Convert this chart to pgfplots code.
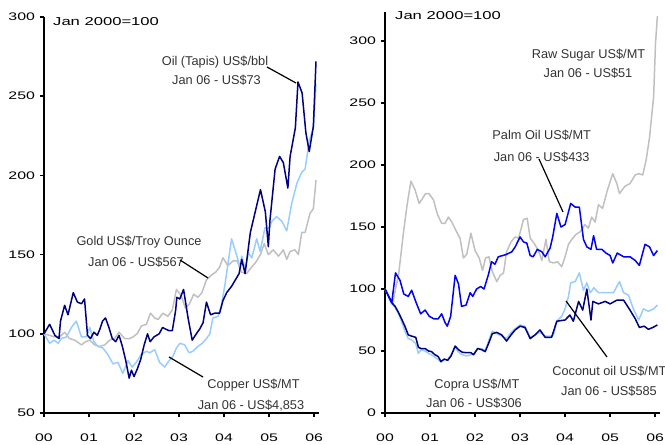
\documentclass[border=0pt]{standalone}
\usepackage{fontspec}
\setmainfont{Liberation Sans}
\newfontfamily\tickfont[FakeStretch=1.45]{Liberation Sans}
\usepackage{pgfplots}
\pgfplotsset{compat=1.18}
\definecolor{navyc}{HTML}{000080}
\definecolor{lightc}{HTML}{99CCFF}
\definecolor{grayc}{HTML}{C0C0C0}
\definecolor{palmc}{HTML}{0000FF}
\definecolor{txtc}{HTML}{333333}
\pgfplotsset{
  mystyle/.style={
    scale only axis,
    anchor=south west,
    axis x line=bottom, axis y line=left,
    axis line style={-, line width=1.5bp, black},
    tick style={line width=1.5bp, black},
    major tick length=4bp,
    tick align=outside,
    xmin=0, xmax=73.3,
    xtick={0,12,24,36,48,60,72},
    xticklabels={00,01,02,03,04,05,06},
    /pgf/number format/assume math mode=true,
    ticklabel style={font=\tickfont\fontsize{11}{13}\selectfont},
    xticklabel style={yshift=-13bp},
    yticklabel style={xshift=-1.5bp},
    every axis plot/.append style={line width=1.5bp, no markers, line join=round},
    clip=false,
  }
}
\newcommand{\ann}{\fontsize{12.8}{20}\selectfont\color{txtc}}
\begin{document}
\begin{tikzpicture}
\path[use as bounding box] (0,0) rectangle (665bp,445bp);
% ---------------- left panel
\begin{axis}[mystyle, at={(44bp,32bp)}, width=275bp, height=396bp,
  ymin=50, ymax=300, ytick={50,100,150,200,250,300}]
% Gold
\addplot[grayc] coordinates {
(0,100)(1.5,99)(2.8,98)(4.2,98)(5.5,101)(6.8,97)(8.2,96)(10,93)(11.1,95)(12.2,96)
(13.5,93)(14.8,92)(16.2,93)(17.5,96)(18.8,97)(20,101)(21.5,97)(22.8,97)(23.7,98)(24.8,100)
(26,105)(27.3,106)(28.4,113)(29.5,110)(30.4,109)(31.7,113)(33,111)(34.2,115)(35.3,128)(36.6,124)
(37.7,116)(38.8,119)(39.9,125)(41,123)(42.1,126)(43.3,134)(44.6,137)(45.8,139)(46.8,142)(47.7,148)
(49,143)(50.4,146)(51.5,146)(52.6,139)(54,138)(55.3,142)(56.4,145)(57.7,150)(58.7,157)(59.8,150)
(61.1,153)(62.5,149)(63.8,153)(64.7,147)(65.6,152)(66.9,153)(67.8,150)(68.7,164)(69.6,164)(70.9,176)
(71.8,179)(72.5,197)};
% Copper
\addplot[lightc] coordinates {
(0,100)(1.5,94)(2.7,96)(3.8,94)(4.6,97)(6,98)(7.3,104)(8.6,108)(10,98)(11.3,98)
(12.2,104)(13.3,95)(14.4,92)(15.7,91)(17,87)(18.4,81)(19.7,82)(21,75)(22.4,83)(23.5,79)
(24.6,82)(25.9,87)(27.3,89)(28.2,88)(29.5,90)(30.8,82)(32.2,79)(33,82)(34.4,86)(35.3,91)
(36.2,94)(37.5,93)(38.7,88)(39.7,89)(41,92)(42.2,94)(43.3,97)(44.2,100)(45,110)(46.4,111)
(47.3,118)(48.3,132)(49.2,147)(50,160)(50.9,153)(52.3,142)(52.7,149)(53.6,141)(54.5,151)(55.4,148)
(56.7,160)(57.6,152)(58.9,167)(60.1,167)(60.7,171)(62,174)(63.4,171)(64.7,165)(66,182)(67.4,195)
(68.7,202)(69.6,204)(70.7,222)(71.8,230)(72.5,258)};
% Oil
\addplot[navyc] coordinates {
(0,100)(1.5,106)(2.9,99)(4,97)(4.4,108)(5.5,118)(6.4,112)(7.8,126)(8.9,120)(10,119)
(10.8,122)(11.6,99)(12.4,97)(13.3,101)(14.2,99)(14.9,103)(15.6,108)(16.4,110)(17.3,104)(18.2,97)
(19.1,95)(20,99)(20.9,92)(21.8,83)(22.7,72)(23.3,77)(24,73)(24.9,78)(25.8,84)(26.7,93)
(27.6,100)(28.3,95)(29.3,98)(30.7,100)(31.6,104)(32.4,103)(33.3,102)(34.2,102)(35.1,115)(35.4,123)
(36.2,122)(37.2,128)(38.4,110)(39.5,96)(40.6,100)(41.5,103)(42.4,107)(43.3,120)(44.4,112)(45.5,113)
(46.8,113)(47.7,121)(48.7,126)(50,130)(51,134)(52,138)(52.7,147)(53.6,138)(55,164)(56.3,177)
(57.7,191)(59,177)(59.8,155)(60.2,171)(61.6,204)(62.8,212)(63.8,208)(65,192)(65.6,212)(67,230)
(67.7,259)(68.8,252)(69.8,227)(70.7,215)(71.8,231)(72.5,272)};
\end{axis}
% ---------------- right panel
\begin{axis}[mystyle, at={(385bp,32bp)}, width=275bp, height=401bp,
  ymin=0, ymax=323.4, ytick={0,50,100,150,200,250,300}]
% Sugar
\addplot[grayc] coordinates {
(0,100)(1.2,93)(2,88)(2.8,100)(3.6,111)(4.9,145)(5.8,166)(6.9,187)(8,180)(9.1,169)
(10,173)(10.8,177)(11.7,177)(12.9,172)(14,160)(15.1,153)(16,153)(16.9,158)(17.8,154)(19.1,146)
(20,141)(20.9,125)(21.8,128)(22.9,145)(24,131)(25.1,125)(26,115)(26.8,125)(27.7,126)(28.6,114)
(29.8,106)(30.7,111)(31.6,113)(32.4,130)(33.6,138)(34.7,142)(35.6,141)(36.4,150)(36.9,156)(37.9,157)
(38.7,141)(39.7,137)(40.9,131)(41.8,123)(42.9,140)(43.8,122)(44.9,121)(46,122)(47.1,118)(48,126)
(48.9,136)(49.8,140)(50.9,144)(52,146)(53.3,152)(54.2,149)(55.1,158)(56,154)(56.9,168)(58,165)
(59.3,180)(60.7,193)(61.8,185)(62.5,177)(64,183)(65.3,185)(66.7,192)(67.6,193)(68.7,192)(69.6,204)
(70.5,222)(71.1,240)(71.6,255)(72.1,298)(72.6,320)};
% Coconut oil
\addplot[lightc] coordinates {
(0,100)(1.8,88)(2.7,85)(3.6,80)(4.4,74)(5.3,66)(6.2,60)(7.1,59)(8.2,56)(8.9,48)
(9.6,51)(10.7,50)(11.6,48)(12.4,47)(13.3,45)(14.2,43)(14.9,41)(15.8,43)(16.7,43)(17.6,47)
(18.7,53)(19.6,49)(20.6,47)(21.8,46)(22.9,47)(23.6,47)(24.7,52)(25.8,52)(26.7,50)(27.6,58)
(28.6,66)(29.8,64)(31.1,62)(32.4,60)(33.6,65)(34.7,68)(36,71)(37.3,70)(38.7,61)(40,63)
(41.3,65)(42.7,62)(44.4,62)(44.9,63)(45.8,74)(47.1,78)(48,84)(48.9,94)(49.5,105)(50.7,106)
(51.8,113)(52.9,99)(53.8,105)(54.7,97)(55.7,101)(56.9,97)(58.7,97)(60.9,97)(62.5,106)(63.6,97)
(64.9,95)(66.2,84)(67.6,75)(68.9,84)(70.2,82)(71.6,84)(72.6,87)};
% Copra
\addplot[navyc] coordinates {
(0,100)(1.8,89)(2.7,86)(3.6,81)(4.4,76)(5.3,70)(6.2,63)(7.1,62)(8.2,61)(8.9,53)
(9.6,52)(10.7,52)(11.6,50)(12.4,49.5)(13.3,47)(14.2,45.5)(14.9,41.5)(15.8,43.5)(16.7,42.5)(17.6,46)
(18.7,54)(19.6,51)(20.6,49)(21.8,48.6)(22.9,48.6)(23.6,47)(24.7,52)(25.8,51)(26.7,49.5)(27.6,56)
(28.6,64)(29.8,65)(31.1,63)(32.4,58)(33.6,63)(34.7,67)(36,70)(37.3,69)(38.7,60)(40,63)
(41.3,67)(42.7,61)(44.4,61)(45.8,74)(48,75)(49.3,79)(50.2,74)(51.6,90)(52.7,83)(53.8,100)
(54.9,75)(55.4,90)(56.9,88)(58.7,90)(60,88)(61.8,91)(63.6,91)(65.3,83)(66.7,76)(67.8,69)
(69.1,70)(70.2,67.5)(71.4,69)(72.6,71)};
% Palm oil
\addplot[palmc] coordinates {
(0,100)(1.8,89)(2.8,113)(4,107)(5,96)(6.2,94)(7.1,99)(8.3,89)(9.5,80)(10.7,83)
(11.8,78)(13,76)(14.2,76)(15.1,80)(16,73)(16.6,70)(17.5,78)(18.7,111)(19.6,104)(20.4,86)
(21.6,87)(22.7,97)(23.4,94)(24.4,100)(25.5,102)(26.4,100)(27.6,112)(28.4,122)(29.3,120)(30.2,126)
(31.4,127)(32.4,128)(33.8,130)(34.7,134)(36,142)(36.9,138)(37.8,137)(38.7,127)(39.5,126)(40.6,132)
(41.8,130)(42.7,126)(44,133)(44.7,142)(45.8,161)(46.9,150)(48,152)(49.5,169)(50.7,166)(51.8,166)
(52.9,140)(53.8,134)(54.9,132)(55.6,143)(56.4,132)(57.8,132)(58.9,129)(60,127)(60.7,121)(61.9,129)
(63.6,126)(65.3,126)(66.7,123)(67.8,119)(69.3,136)(70.5,134)(71.6,127)(72.6,131)};
\end{axis}
% ---------------- annotations
\node[anchor=base west, inner sep=0pt, font=\tickfont\fontsize{11.5}{13}\selectfont] at (53bp,419bp) {Jan 2000=100};
\node[anchor=base west, inner sep=0pt, font=\tickfont\fontsize{11.5}{13}\selectfont] at (395bp,425bp) {Jan 2000=100};
\begin{scope}[every node/.style={anchor=base, inner sep=0pt, font=\ann}]
\node at (215bp,379.3bp) {Oil (Tapis) US\$/bbl};
\node at (216.5bp,360bp) {Jan 06 - US\$73};
\node at (139bp,199bp) {Gold US\$/Troy Ounce};
\node at (136bp,178.3bp) {Jan 06 - US\$567};
\node at (253.5bp,56bp) {Copper US\$/MT};
\node at (251bp,35.7bp) {Jan 06 - US\$4,853};
\node at (588.5bp,386.7bp) {Raw Sugar US\$/MT};
\node at (588bp,367.3bp) {Jan 06 - US\$51};
\node at (541.7bp,305bp) {Palm Oil US\$/MT};
\node at (541.7bp,283.3bp) {Jan 06 - US\$433};
\node at (477bp,56.7bp) {Copra US\$/MT};
\node at (474bp,37.7bp) {Jan 06 - US\$306};
\node at (609.4bp,69bp) {Coconut oil US\$/MT};
\node at (609bp,49bp) {Jan 06 - US\$585};
\end{scope}
\begin{scope}[line width=1.2bp, black]
\draw (267bp,378bp) -- (296bp,362bp);
\draw (180bp,185bp) -- (208bp,167bp);
\draw (169bp,88bp) -- (203bp,68bp);
\draw (539bp,286bp) -- (563bp,233bp);
\draw (566bp,144bp) -- (607bp,88bp);
\end{scope}
\end{tikzpicture}
\end{document}
